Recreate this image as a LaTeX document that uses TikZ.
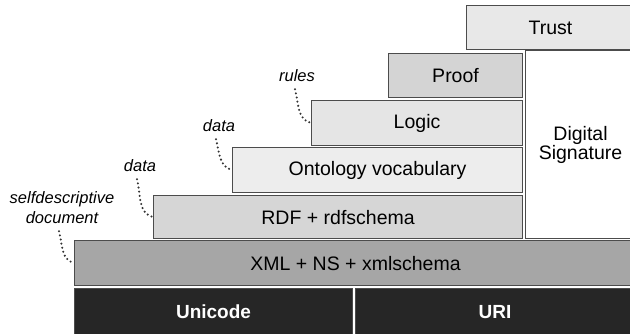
\documentclass[tikz,border=0pt]{standalone}
\usepackage{fontspec}
\setmainfont{Liberation Sans}
\begin{document}
\begin{tikzpicture}[x=1pt,y=-1pt,
  layer/.style={draw=black!70, line width=1.1pt, anchor=north west, inner sep=0pt, font=\fontsize{19.5}{21}\selectfont},
  darklayer/.style={layer, fill=black!85, text=white, font=\fontsize{19}{21}\selectfont\bfseries},
  note/.style={inner sep=0pt, align=center, font=\fontsize{16.5}{20}\selectfont\itshape},
  dotline/.style={black!80, line width=2.3pt, dash pattern=on 0pt off 4.2pt, line cap=round}]
\useasboundingbox (0,0) rectangle (630,333);
\fill[white] (0,0) rectangle (630,333);
% layers
\node[layer, fill=white, minimum width=110, minimum height=188, align=center] (sig) at (525,50) {Digital\\[-2pt]Signature};
\node[layer, fill=black!9, minimum width=168, minimum height=44] (trust) at (466,5) {Trust};
\node[layer, fill=black!17, minimum width=134, minimum height=44] (proof) at (388,53) {Proof};
\node[layer, fill=black!10, minimum width=211, minimum height=45] (logic) at (311,100) {Logic};
\node[layer, fill=black!7, minimum width=290, minimum height=45] (onto) at (232,147) {Ontology vocabulary};
\node[layer, fill=black!16, minimum width=369, minimum height=43] (rdf) at (153,195) {RDF + rdfschema};
\node[layer, fill=black!35, minimum width=562, minimum height=45] (xml) at (74,240) {XML + NS + xmlschema};
\node[darklayer, minimum width=278, minimum height=47] (unicode) at (74,288) {Unicode};
\node[darklayer, minimum width=279, minimum height=47] (uri) at (355,288) {URI};
% annotations
\node[note] (rules) at (297,76) {rules};
\node[note] (data1) at (219,126) {data};
\node[note] (data2) at (140,166) {data};
\node[note] (selfdesc) at (62,208) {selfdescriptive\\document};
\draw[dotline] ([xshift=-2pt,yshift=-7pt]rules.south) to[out=-75,in=165] (logic.west);
\draw[dotline] ([xshift=-3pt,yshift=-7pt]data1.south) to[out=-75,in=165] (onto.west);
\draw[dotline] ([xshift=-3pt,yshift=-7pt]data2.south) to[out=-75,in=165] (rdf.west);
\draw[dotline] ([xshift=-3pt,yshift=-7pt]selfdesc.south) to[out=-75,in=165] (xml.west);
\end{tikzpicture}
\end{document}
